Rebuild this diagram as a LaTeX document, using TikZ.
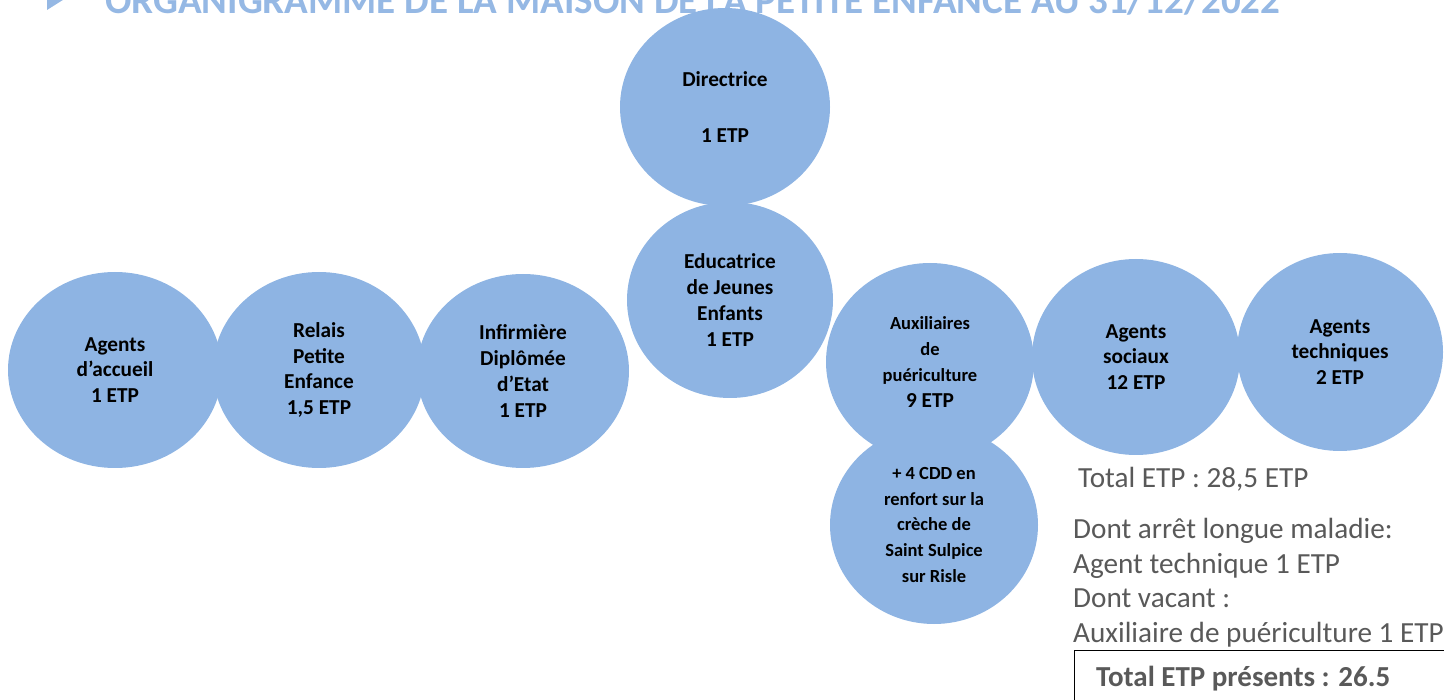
\documentclass[tikz,border=0pt]{standalone}
\usepackage{fontspec}
\setmainfont{Carlito}
\usetikzlibrary{shapes.geometric}
\definecolor{bubble}{HTML}{8EB4E3}
\definecolor{titleblue}{HTML}{95B8E4}
\definecolor{txtgray}{HTML}{595959}
\newcommand{\smalltxt}{\fontsize{18.5}{23}\selectfont}
\tikzset{
  bubble/.style={ellipse, fill=bubble, draw=none, inner sep=0pt, align=center,
    text=black, font=\bfseries\fontsize{21.3}{25.8}\selectfont},
  note/.style={anchor=base west, inner sep=0pt, text=txtgray,
    font=\fontsize{29.2}{35}\selectfont},
}
\begin{document}
\begin{tikzpicture}[x=1pt,y=-1pt]
\useasboundingbox (0,0) rectangle (1444,700);
\clip (0,0) rectangle (1444,700);
% title (cut by the page edge, as in the reference)
\fill[titleblue] (47,-14) -- (66,-2) -- (47,10) -- cycle;
\node[anchor=base west, inner sep=0pt, text=titleblue] (title) at (105,14)
  {\resizebox{1175pt}{!}{\bfseries\fontsize{34}{40}\selectfont ORGANIGRAMME DE LA MAISON DE LA PETITE ENFANCE AU 31/12/2022}};
% circles
\node[bubble, minimum width=210pt, minimum height=198pt] (dir) at (725,107) {Directrice\\[31pt]1 ETP};
\node[bubble, minimum width=206pt, minimum height=196pt] (edu) at (730,300) {Educatrice\\de Jeunes\\Enfants\\1 ETP};
\node[bubble, minimum width=214pt, minimum height=196pt] (acc) at (115,370) {Agents\\d’accueil\\1 ETP};
\node[bubble, minimum width=212pt, minimum height=196pt] (rel) at (319,370) {Relais\\Petite\\Enfance\\1,5 ETP};
\node[bubble, minimum width=212pt, minimum height=194pt] (inf) at (523,371) {Infirmière\\Diplômée\\d’Etat\\1 ETP};
\node[bubble, minimum width=208pt, minimum height=198pt] (cdd) at (934,525)
  {\smalltxt + 4 CDD en\\\smalltxt renfort sur la\\\smalltxt crèche de\\\smalltxt Saint Sulpice\\\smalltxt sur Risle};
\node[bubble, minimum width=208pt, minimum height=198pt] (aux) at (930,362)
  {\smalltxt Auxiliaires\\\smalltxt de\\\smalltxt puériculture\\9 ETP};
\node[bubble, minimum width=208pt, minimum height=196pt] (soc) at (1136,357) {Agents\\sociaux\\12 ETP};
\node[bubble, minimum width=206pt, minimum height=198pt] (tech) at (1340,352) {Agents\\techniques\\2 ETP};
% notes
\node[note] (tot) at (1078,488) {Total ETP : 28,5 ETP};
\node[note] (l1) at (1073,538) {Dont arrêt longue maladie:};
\node[note] (l2) at (1073,573) {Agent technique 1 ETP};
\node[note] (l3) at (1073,607) {Dont vacant :};
\node[note] (l4) at (1073,642) {Auxiliaire de puériculture 1 ETP};
\draw[black, line width=1pt] (1074,712) -- (1074,650.5) -- (1450,650.5);
\node[note, font=\bfseries\fontsize{29}{35}\selectfont] (pres) at (1096,686) {Total ETP présents : 26.5};
\end{tikzpicture}
\end{document}
